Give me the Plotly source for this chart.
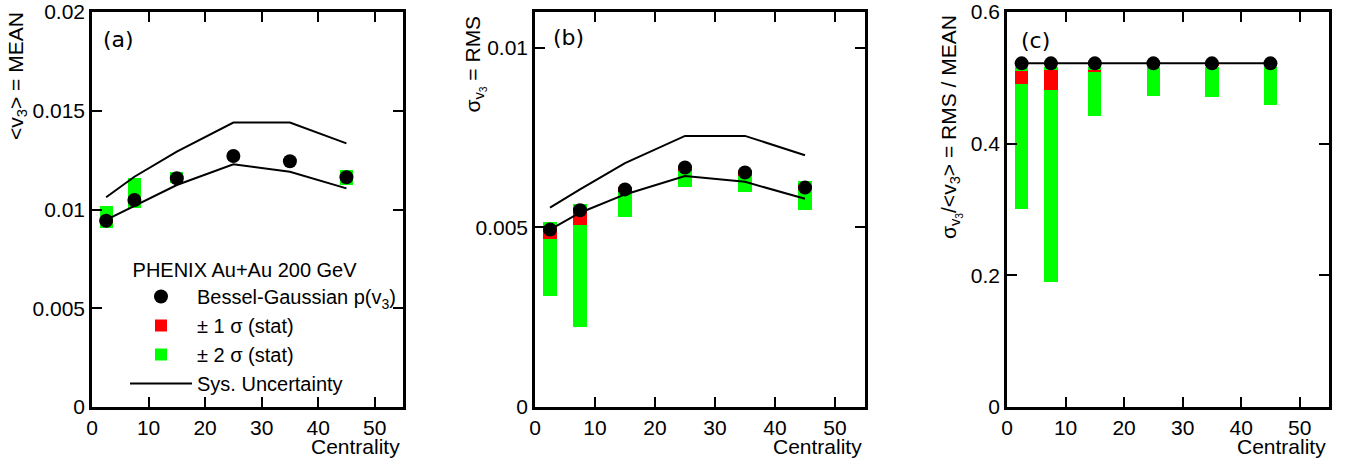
import plotly.graph_objects as go
import numpy as np

W, H = 1349, 461

# ---------------- data ----------------
centrality = [2.5, 7.5, 15, 25, 35, 45]

# panel (a): <v3> = MEAN
mean_val = [0.00943, 0.01048, 0.01158, 0.01271, 0.01244, 0.01163]
mean_sys_hi = [0.01062, 0.01166, 0.01293, 0.01440, 0.01440, 0.01335]
mean_sys_lo = [0.00947, 0.01018, 0.01124, 0.01229, 0.01191, 0.01107]
mean_g_lo = [0.00904, 0.01009, 0.01135, 0.01260, 0.01226, 0.01124]
mean_g_hi = [0.01018, 0.01158, 0.01188, 0.01282, 0.01262, 0.01200]
mean_r_lo = [0.00933, 0.01038, 0.01148, 0.01262, 0.01235, 0.01153]
mean_r_hi = [0.00953, 0.01058, 0.01168, 0.01280, 0.01253, 0.01173]

# panel (b): sigma_v3 = RMS
rms_val = [0.00494, 0.00548, 0.00606, 0.00667, 0.00653, 0.00611]
rms_sys_hi = [0.00555, 0.00606, 0.00679, 0.00755, 0.00755, 0.00701]
rms_sys_lo = [0.00494, 0.00541, 0.00592, 0.00643, 0.00627, 0.00580]
rms_g_lo = [0.00310, 0.00223, 0.00529, 0.00614, 0.00599, 0.00548]
rms_g_hi = [0.00515, 0.00564, 0.00600, 0.00662, 0.00650, 0.00629]
rms_r_lo = [0.00467, 0.00508, 0.00598, 0.00656, 0.00643, 0.00605]
rms_r_hi = [0.00500, 0.00550, 0.00612, 0.00672, 0.00659, 0.00617]

# panel (c): RMS / MEAN
ratio_val = [0.522, 0.522, 0.522, 0.522, 0.522, 0.522]
ratio_sys = [0.522, 0.522, 0.522, 0.522, 0.522, 0.522]
ratio_g_lo = [0.3015, 0.190, 0.442, 0.4725, 0.4716, 0.4588]
ratio_g_hi = [0.516, 0.516, 0.516, 0.516, 0.516, 0.516]
ratio_r_lo = [0.4903, 0.4812, 0.509, 0.518, 0.518, 0.518]
ratio_r_hi = [0.5110, 0.5116, 0.5116, 0.521, 0.521, 0.521]

x_ticks = [0, 10, 20, 30, 40, 50]
x_ticktext = ["0", "10", "20", "30", "40", "50"]
ya_ticks = [0, 0.005, 0.01, 0.015, 0.02]
ya_text = ["0", "0.005", "0.01", "0.015", "0.02"]
yb_ticks = [0, 0.005, 0.01]
yb_text = ["0", "0.005", "0.01"]
yc_ticks = [0, 0.2, 0.4, 0.6]
yc_text = ["0", "0.2", "0.4", "0.6"]

legend_title = "\u00a0PHENIX Au+Au 200 GeV"
names = ["Bessel-Gaussian p(v<sub>3</sub>)", "± 1 σ (stat)", "± 2 σ (stat)", "Sys. Uncertainty"]

RED = "#ff0000"
GREEN = "#00ff00"
FONT = "Liberation Sans, Arial, Helvetica, sans-serif"
TICK_SIZE = 21
TITLE_SIZE = 21
LEG_SIZE = 20

# ---------------- layout geometry (pixels) ----------------
def fx(p):
    return p / W

def fy(p):
    return 1 - p / H

panels = [
    dict(x0=92, x1=403),
    dict(x0=535, x1=865),
    dict(x0=1007, x1=1329),
]
y_top, y_bot = 12, 407

fig = go.Figure()

datasets = [
    (mean_val, [mean_sys_hi, mean_sys_lo], mean_g_lo, mean_g_hi, mean_r_lo, mean_r_hi),
    (rms_val, [rms_sys_hi, rms_sys_lo], rms_g_lo, rms_g_hi, rms_r_lo, rms_r_hi),
    (ratio_val, [ratio_sys], ratio_g_lo, ratio_g_hi, ratio_r_lo, ratio_r_hi),
]

bar_w = 2.25
for i, (val, sys_lines, glo, ghi, rlo, rhi) in enumerate(datasets):
    xa = "x" if i == 0 else f"x{i+1}"
    ya = "y" if i == 0 else f"y{i+1}"
    first = (i == 0)
    fig.add_trace(go.Bar(x=centrality, y=np.array(ghi) - np.array(glo), base=glo,
                         width=bar_w, marker=dict(color=GREEN, line=dict(width=0)),
                         name=names[2], showlegend=first, legendrank=3, legendgroup="g",
                         xaxis=xa, yaxis=ya))
    fig.add_trace(go.Bar(x=centrality, y=np.array(rhi) - np.array(rlo), base=rlo,
                         width=bar_w, marker=dict(color=RED, line=dict(width=0)),
                         name=names[1], showlegend=first, legendrank=2, legendgroup="r",
                         xaxis=xa, yaxis=ya))
    for k, s in enumerate(sys_lines):
        fig.add_trace(go.Scatter(x=centrality, y=s, mode="lines",
                                 line=dict(color="black", width=2),
                                 name=names[3], showlegend=(first and k == 0), legendrank=4,
                                 legendgroup="s", xaxis=xa, yaxis=ya))
    fig.add_trace(go.Scatter(x=centrality, y=val, mode="markers",
                             marker=dict(color="black", size=14, line=dict(width=0)),
                             name=names[0], showlegend=first, legendrank=1, legendgroup="p",
                             xaxis=xa, yaxis=ya))

common_x = dict(range=[0, 55], tickvals=x_ticks, ticktext=x_ticktext,
                ticks="inside", ticklen=10, tickwidth=2, tickcolor="black",
                showline=True, linewidth=2.5, linecolor="black", mirror="ticks",
                showgrid=False, zeroline=False, tickfont=dict(size=TICK_SIZE, color="black"),
                automargin=False, fixedrange=True)
common_y = dict(ticks="inside", ticklen=10, tickwidth=2, tickcolor="black",
                showline=True, linewidth=2.5, linecolor="black", mirror="ticks",
                showgrid=False, zeroline=False, tickfont=dict(size=TICK_SIZE, color="black"),
                automargin=False, fixedrange=True)

dom_y = [fy(y_bot), fy(y_top)]
yranges = [[0, 0.02], [0, 0.011], [0, 0.6]]
yticks = [(ya_ticks, ya_text), (yb_ticks, yb_text), (yc_ticks, yc_text)]

layout_axes = {}
for i, p in enumerate(panels):
    xn = "xaxis" if i == 0 else f"xaxis{i+1}"
    yn = "yaxis" if i == 0 else f"yaxis{i+1}"
    xs = "x" if i == 0 else f"x{i+1}"
    ys = "y" if i == 0 else f"y{i+1}"
    layout_axes[xn] = dict(common_x, domain=[fx(p["x0"]), fx(p["x1"])], anchor=ys)
    layout_axes[yn] = dict(common_y, domain=dom_y, anchor=xs, range=yranges[i],
                           tickvals=yticks[i][0], ticktext=yticks[i][1])

annotations = []
# panel labels
for lab, px, py in [("(a)", 101, 39), ("(b)", 551, 38), ("(c)", 1019, 40)]:
    annotations.append(dict(text=lab, x=fx(px), y=fy(py), xref="paper", yref="paper",
                            xanchor="left", yanchor="middle", showarrow=False,
                            font=dict(family="DejaVu Sans", size=22, color="black")))
# x titles
for p in panels:
    annotations.append(dict(text="Centrality", x=fx(p["x1"] - 1), y=fy(446), xref="paper", yref="paper",
                            xanchor="right", yanchor="middle", showarrow=False,
                            font=dict(size=TITLE_SIZE, color="black")))
# y titles
ytitles = [
    ("&lt;v<sub>3</sub>&gt; = MEAN", 17, 10),
    ("σ<sub>v<sub>3</sub></sub> = RMS", 475, 13),
    ("σ<sub>v<sub>3</sub></sub>/&lt;v<sub>3</sub>&gt; = RMS / MEAN", 951, 13),
]
for t, px, py in ytitles:
    annotations.append(dict(text=t, x=fx(px), y=fy(py), xref="paper", yref="paper",
                            xanchor="center", yanchor="top", textangle=-90, showarrow=False,
                            font=dict(size=TITLE_SIZE, color="black")))

fig.update_layout(
    width=W, height=H, autosize=False,
    margin=dict(l=0, r=0, t=0, b=0),
    paper_bgcolor="white", plot_bgcolor="white",
    font=dict(family=FONT, color="black"),
    barmode="overlay", bargap=0,
    showlegend=True,
    legend=dict(x=fx(125), y=fy(251), xanchor="left", yanchor="top",
                bgcolor="rgba(0,0,0,0)", borderwidth=0,
                font=dict(size=LEG_SIZE, color="black"),
                title=dict(text=legend_title, font=dict(size=LEG_SIZE, color="black")),
                itemwidth=62, tracegroupgap=3, traceorder="normal"),
    annotations=annotations,
    **layout_axes,
)

fig.write_html("out.html", config={"displayModeBar": False},
               post_script="document.body.style.margin='0';")
